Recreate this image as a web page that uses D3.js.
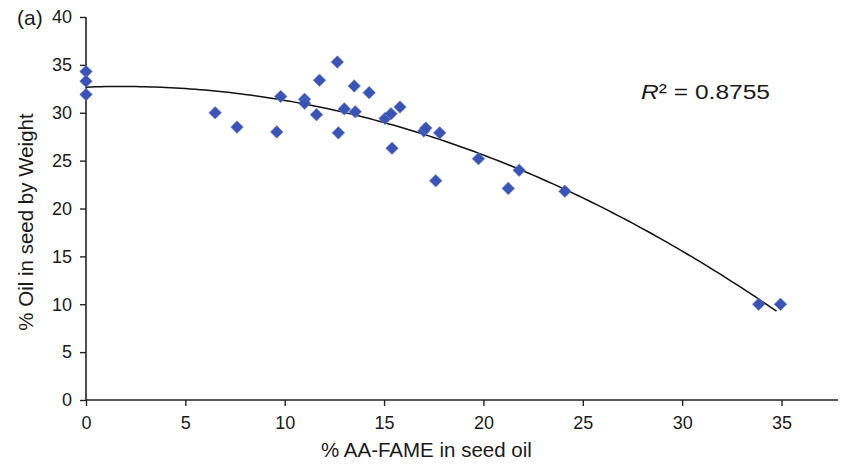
<!DOCTYPE html>
<html>
<head>
<meta charset="utf-8">
<script src="https://cdn.jsdelivr.net/npm/d3@7"></script>
<style>
  body { margin: 0; background: #fff; }
  text { font-family: "Liberation Sans", Arial, sans-serif; fill: #1a1a1a; }
</style>
</head>
<body>
<div id="chart"></div>
<script>
// % AA-FAME in seed oil (x) and % oil in seed by weight (y)
var aaFame = [0, 0, 0, 6.5, 7.6, 9.6, 9.8, 11.0, 11.0, 11.6, 11.75, 12.65, 12.7, 13.0, 13.5,
  13.55, 14.25, 15.05, 15.35, 15.4, 15.8, 17.0, 17.1, 17.6, 17.8, 19.75, 21.25, 21.8, 24.1,
  33.85, 34.95];
var oilPct = [34.3, 33.3, 31.9, 30.0, 28.5, 28.0, 31.7, 31.4, 31.0, 29.8, 33.4, 35.3, 27.9, 30.4, 32.8,
  30.1, 32.1, 29.4, 29.9, 26.3, 30.6, 28.1, 28.4, 22.9, 27.9, 25.2, 22.1, 24.0, 21.8,
  10.0, 10.0];
var xTicks = [0, 5, 10, 15, 20, 25, 30, 35];
var yTicks = [0, 5, 10, 15, 20, 25, 30, 35, 40];
var r2Label = "0.8755";

var width = 841,
  height = 464;

var x = d3.scaleLinear().domain([0, 35]).range([86, 781.5]);
var y = d3.scaleLinear().domain([0, 40]).range([400, 17]);
var xAxisEnd = 838;

var svg = d3.select("#chart")
  .append("svg")
  .attr("width", width)
  .attr("height", height);

// second order polynomial least squares fit (like the spreadsheet trendline)
function polyFit(xs, ys) {
  var s = [0, 0, 0, 0, 0], t = [0, 0, 0];
  xs.forEach(function(v, i) {
    for (var k = 0; k < 5; k++) s[k] += Math.pow(v, k);
    for (var k = 0; k < 3; k++) t[k] += ys[i] * Math.pow(v, k);
  });
  var m = [[s[0], s[1], s[2], t[0]], [s[1], s[2], s[3], t[1]], [s[2], s[3], s[4], t[2]]];
  for (var c = 0; c < 3; c++) {
    for (var r = c + 1; r < 3; r++) {
      var f = m[r][c] / m[c][c];
      for (var k = c; k < 4; k++) m[r][k] -= f * m[c][k];
    }
  }
  var b = [0, 0, 0];
  for (var r = 2; r >= 0; r--) {
    var acc = m[r][3];
    for (var k = r + 1; k < 3; k++) acc -= m[r][k] * b[k];
    b[r] = acc / m[r][r];
  }
  return b;
}
var coef = polyFit(aaFame, oilPct);
var fitX = d3.range(0, d3.max(aaFame) + 0.001, 0.25);

// axes
var xAxis = svg.append("g")
  .attr("transform", "translate(0," + y(0) + ")")
  .call(d3.axisBottom(x).tickValues(xTicks).tickSize(6).tickPadding(10));
xAxis.select(".domain").remove();
xAxis.append("line")
  .attr("x1", x(0)).attr("x2", xAxisEnd)
  .attr("stroke", "#222").attr("stroke-width", 1.6);

var yAxis = svg.append("g")
  .attr("transform", "translate(" + x(0) + ",0)")
  .call(d3.axisLeft(y).tickValues(yTicks).tickSize(6).tickPadding(8));
yAxis.select(".domain").remove();
yAxis.append("line")
  .attr("y1", y(0)).attr("y2", y(40))
  .attr("stroke", "#222").attr("stroke-width", 1.6);

svg.selectAll(".tick line").attr("stroke", "#222").attr("stroke-width", 1.4);
svg.selectAll(".tick text")
  .style("font-size", "18px")
  .style("font-family", "'Liberation Sans', Arial, sans-serif")
  .attr("fill", "#1a1a1a");

// trend line
svg.append("path")
  .datum(fitX)
  .attr("fill", "none")
  .attr("stroke", "#111")
  .attr("stroke-width", 1.5)
  .attr("d", d3.line()
    .x(function(d) { return x(d); })
    .y(function(d) { return y(coef[0] + coef[1] * d + coef[2] * d * d); }));

// points
svg.selectAll(".pt")
  .data(aaFame)
  .enter().append("path")
  .attr("class", "pt")
  .attr("transform", function(d, i) {
    return "translate(" + x(d) + "," + y(oilPct[i]) + ")";
  })
  .attr("d", "M0,-6.3L6.3,0L0,6.3L-6.3,0Z")
  .attr("fill", "#3b54b3")
  .attr("stroke", "#6f84cc")
  .attr("stroke-width", 0.6);

// labels
svg.append("text")
  .attr("x", 321)
  .attr("y", 457)
  .style("font-size", "20.5px")
  .text("% AA-FAME in seed oil");

svg.append("text")
  .attr("transform", "translate(33,222) rotate(-90)")
  .attr("text-anchor", "middle")
  .style("font-size", "20.5px")
  .text("% Oil in seed by Weight");

svg.append("text")
  .attr("x", 17)
  .attr("y", 25)
  .style("font-size", "21px")
  .text("(a)");

var r2 = svg.append("text")
  .attr("transform", "translate(641,99) scale(1.17,1)")
  .style("font-size", "21px");
r2.append("tspan").style("font-style", "italic").text("R");
r2.append("tspan").text("\u00b2 = " + r2Label);
</script>
</body>
</html>
